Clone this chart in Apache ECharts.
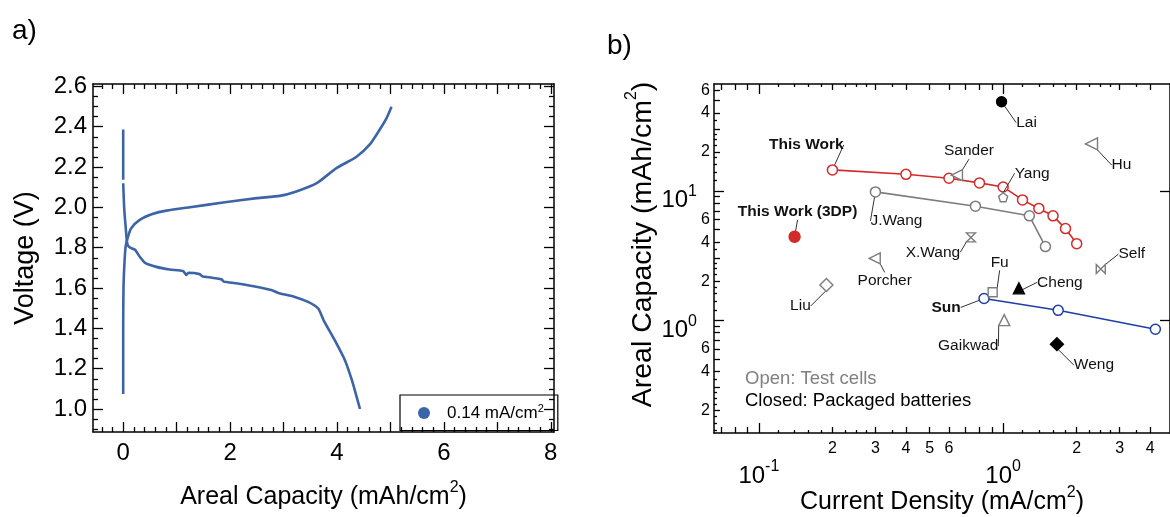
<!DOCTYPE html>
<html>
<head>
<meta charset="utf-8">
<script src="https://cdn.jsdelivr.net/npm/echarts@6/dist/echarts.min.js"></script>
<style>
  html, body { margin: 0; padding: 0; background: #fff; }
  #chart { width: 1170px; height: 517px; }
</style>
</head>
<body>
<div id="chart"></div>
<script>
// ---- (a) voltage profile at 0.14 mA/cm2 ----
const restCapacity = [0, 0];
const restVoltage = [2.386, 2.137];

const dischargeCapacity = [0, 0.02, 0.05, 0.07, 0.09, 0.13, 0.22, 0.31, 0.41, 0.62, 0.87, 1.12, 1.16, 1.18, 1.22, 1.43, 1.48, 1.53, 1.84, 1.88, 1.96, 2.33, 2.77, 2.9, 3.21, 3.46, 3.65, 3.75, 3.96, 4.15, 4.28, 4.37, 4.43];
const dischargeVoltage  = [2.12, 1.99, 1.89, 1.83, 1.81, 1.80, 1.79, 1.755, 1.725, 1.705, 1.692, 1.684, 1.672, 1.665, 1.676, 1.669, 1.658, 1.656, 1.643, 1.632, 1.629, 1.614, 1.59, 1.576, 1.556, 1.531, 1.498, 1.44, 1.34, 1.241, 1.142, 1.058, 1.0];

const chargeCapacity = [0, 0, 0, 0.006, 0.02, 0.045, 0.09, 0.15, 0.31, 0.56, 0.81, 1.25, 1.87, 2.5, 2.93, 3.24, 3.62, 3.99, 4.36, 4.61, 4.8, 4.93, 5.02];
const chargeVoltage  = [1.075, 1.25, 1.425, 1.606, 1.706, 1.805, 1.855, 1.897, 1.938, 1.968, 1.984, 2.001, 2.024, 2.046, 2.057, 2.079, 2.12, 2.195, 2.25, 2.311, 2.386, 2.444, 2.499];

const profileName = '0.14 mA/cm2';
const capacityLabels = [0, 2, 4, 6, 8];
const voltageLabels = [1.0, 1.2, 1.4, 1.6, 1.8, 2.0, 2.2, 2.4, 2.6];

// ---- (b) areal capacity vs current density ----
const thisWorkCurrent  = [0.2, 0.4, 0.6, 0.8, 1.0, 1.2, 1.4, 1.6, 1.8, 2.0];
const thisWorkCapacity = [14.5, 13.4, 12.5, 11.5, 10.7, 8.5, 7.3, 6.4, 5.1, 3.9];

const jWangCurrent  = [0.3, 0.77, 1.28, 1.49];
const jWangCapacity = [9.8, 7.6, 6.4, 3.7];

const sunCurrent  = [0.835, 1.68, 4.2];
const sunCapacity = [1.47, 1.19, 0.85];

const referenceNames    = ['This Work (3DP)', 'Liu', 'Porcher', 'X.Wang', 'Sander', 'Yang', 'Lai', 'Hu', 'Self', 'Fu', 'Cheng', 'Gaikwad', 'Weng'];
const referenceCurrent  = [0.14, 0.189, 0.298, 0.738, 0.647, 1.0, 0.985, 2.3, 2.51, 0.906, 1.16, 1.01, 1.66];
const referenceCapacity = [4.41, 1.87, 3.0, 4.36, 13.2, 8.9, 48.8, 23.0, 2.48, 1.64, 1.76, 1.0, 0.652];

const currentDecades  = [0.1, 1];
const currentLabels   = [0.2, 0.3, 0.4, 0.5, 0.6, 2, 3, 4];
const capacityDecades = [1, 10];
const arealLabels     = [0.2, 0.4, 0.6, 2, 4, 6, 20, 40, 60];

// ---- styling ----
const FONT = '"Liberation Sans", Arial, Helvetica, sans-serif';
const BLUE_A = '#3d64a7';
const RED = '#d42a2a';
const GRAY = '#7d7d7d';
const BLUE_B = '#1f3ea6';
const INK = '#000';

const pointStyle = {
  'This Work (3DP)': { symbol: 'circle', size: 11, fill: RED, stroke: RED, bold: true, dx: 3, dy: -25 },
  'Liu':     { symbol: 'diamond', size: 13, fill: '#fff', stroke: GRAY, dx: -26, dy: 21 },
  'Porcher': { symbol: 'triangle', rotate: 90, size: 11, fill: '#fff', stroke: GRAY, dx: 10, dy: 22 },
  'X.Wang':  { symbol: 'path://M0,0 L10,0 L5,5 Z M5,5 L10,10 L0,10 Z', size: 9, fill: '#fff', stroke: GRAY, dx: -38, dy: 15 },
  'Sander':  { symbol: 'triangle', rotate: 90, size: 11, fill: '#fff', stroke: GRAY, dx: 12, dy: -24 },
  'Yang':    { symbol: 'path://M0,-1 L0.951,-0.309 L0.588,0.809 L-0.588,0.809 L-0.951,-0.309 Z', size: 9, fill: '#fff', stroke: GRAY, dx: 29, dy: -24 },
  'Lai':     { symbol: 'circle', size: 10, fill: INK, stroke: INK, dx: 25, dy: 21 },
  'Hu':      { symbol: 'triangle', rotate: 90, size: 12, fill: '#fff', stroke: GRAY, dx: 30, dy: 21 },
  'Self':    { symbol: 'path://M0,0 L5,5 L0,10 Z M10,0 L5,5 L10,10 Z', size: 9, fill: '#fff', stroke: GRAY, dx: 31, dy: -15 },
  'Fu':      { symbol: 'rect', size: 9, fill: '#fff', stroke: GRAY, dx: 7, dy: -30 },
  'Cheng':   { symbol: 'triangle', size: 11, fill: INK, stroke: INK, dx: 41, dy: -6 },
  'Gaikwad': { symbol: 'triangle', size: 11, fill: '#fff', stroke: GRAY, dx: -36, dy: 26 },
  'Weng':    { symbol: 'diamond', size: 13, fill: INK, stroke: INK, dx: 37, dy: 21 }
};

// tick value helpers (axis furniture only)
function steps(from, to, step) {
  const out = [];
  const n = Math.round((to - from) / step);
  for (let i = 0; i <= n; i++) out.push(+(from + i * step).toFixed(6));
  return out;
}
const isMultiple = (v, m) => Math.abs(v / m - Math.round(v / m)) < 1e-6;

const capMajorTicks = steps(0, 8, 1);
const capMinorTicks = steps(-0.4, 8, 0.2).filter(v => !isMultiple(v, 1));
const voltMajorTicks = voltageLabels;
const voltMinorTicks = steps(0.9, 2.6, 0.05).filter(v => !isMultiple(v, 0.2));

const logMedium = (decades) => {
  const out = [];
  decades.forEach(d => { for (let k = 2; k <= 9; k++) out.push(+(d * k).toPrecision(6)); });
  return out;
};
const logSmall = (decades) => {
  const out = [];
  decades.forEach(d => [1.2, 1.4, 1.6, 1.8, 2.25, 2.5, 2.75, 3.5].forEach(k => out.push(+(d * k).toPrecision(6))));
  return out;
};
const curMedium = logMedium([0.01, 0.1, 1]);
const curSmall = logSmall([0.1, 1]);
const capMedium = logMedium([0.1, 1, 10]);
const capSmall = logSmall([0.1, 1, 10]);

const supRich = {
  b: { fontSize: 24, lineHeight: 24, padding: [10, 0, 0, 0], fontFamily: FONT, color: INK },
  s: { fontSize: 16, lineHeight: 16, verticalAlign: 'top', fontFamily: FONT, color: INK }
};
const nameRich = (size) => ({
  t: { fontSize: size, lineHeight: size, padding: [10, 0, 0, 0], fontFamily: FONT, color: INK },
  s: { fontSize: 16, lineHeight: 16, verticalAlign: 'top', fontFamily: FONT, color: INK }
});
const decadeText = v => '{b|10}{s|' + Math.round(Math.log10(v)) + '}';
const leadDigit = v => String(Math.round(v / Math.pow(10, Math.floor(Math.log10(v) + 1e-9))));

function axis(o) {
  const a = {
    type: o.log ? 'log' : 'value',
    logBase: 10,
    gridIndex: o.grid,
    position: o.pos,
    min: o.min,
    max: o.max,
    axisLine: { show: !!o.line, onZero: false, lineStyle: { color: INK, width: 1.5 } },
    axisTick: { show: true, inside: true, length: o.len, customValues: o.ticks, lineStyle: { color: INK, width: 1.3 } },
    axisLabel: { show: false },
    splitLine: { show: false },
    minorTick: { show: false },
    z: 10
  };
  if (o.labels) {
    a.axisLabel = {
      show: true, customValues: o.labels, formatter: o.fmt, margin: o.margin,
      fontSize: o.fontSize, fontFamily: FONT, color: INK, rich: o.rich, padding: o.labelPad
    };
  }
  if (o.name) {
    a.name = o.name;
    a.nameLocation = 'middle';
    a.nameGap = o.nameGap;
    a.nameMoveOverlap = false;
    a.nameTextStyle = Object.assign({ fontFamily: FONT, color: INK, fontSize: o.nameSize, rich: nameRich(o.nameSize) }, o.nameStyle || {});
  }
  return a;
}

const capRange = { min: -0.565, max: 8.06 };
const voltRange = { min: 0.886, max: 2.612 };
const curRange = { min: 0.0655, max: 4.82 };
const arealRange = { min: 0.134, max: 66.9 };

const xAxes = [
  axis(Object.assign({ grid: 0, pos: 'bottom', line: true, len: 10, ticks: capMajorTicks, labels: capacityLabels,
    fmt: v => String(v), margin: 9, fontSize: 24,
    name: '{t|Areal Capacity (mAh/cm}{s|2}{t|)}', nameGap: 48, nameSize: 25 }, capRange)),
  axis(Object.assign({ grid: 0, pos: 'bottom', len: 5, ticks: capMinorTicks }, capRange)),
  axis(Object.assign({ grid: 0, pos: 'top', line: true, len: 10, ticks: capMajorTicks }, capRange)),
  axis(Object.assign({ grid: 0, pos: 'top', len: 5, ticks: capMinorTicks }, capRange)),

  axis(Object.assign({ grid: 1, log: true, pos: 'bottom', line: true, len: 10, ticks: currentDecades, labels: currentDecades,
    fmt: decadeText, margin: 26, fontSize: 24, rich: supRich,
    name: '{t|Current Density (mA/cm}{s|2}{t|)}', nameGap: 52, nameSize: 25 }, curRange)),
  axis(Object.assign({ grid: 1, log: true, pos: 'bottom', len: 6, ticks: curMedium, labels: currentLabels,
    fmt: leadDigit, margin: 8, fontSize: 16 }, curRange)),
  axis(Object.assign({ grid: 1, log: true, pos: 'bottom', len: 3, ticks: curSmall }, curRange)),
  axis(Object.assign({ grid: 1, log: true, pos: 'top', line: true, len: 10, ticks: currentDecades }, curRange)),
  axis(Object.assign({ grid: 1, log: true, pos: 'top', len: 6, ticks: curMedium }, curRange)),
  axis(Object.assign({ grid: 1, log: true, pos: 'top', len: 3, ticks: curSmall }, curRange))
];

const yAxes = [
  axis(Object.assign({ grid: 0, pos: 'left', line: true, len: 10, ticks: voltMajorTicks, labels: voltageLabels,
    fmt: v => v.toFixed(1), margin: 6, fontSize: 24,
    name: 'Voltage (V)', nameGap: 54, nameSize: 27, nameStyle: { rich: {} } }, voltRange)),
  axis(Object.assign({ grid: 0, pos: 'left', len: 5, ticks: voltMinorTicks }, voltRange)),
  axis(Object.assign({ grid: 0, pos: 'right', line: true, len: 10, ticks: voltMajorTicks }, voltRange)),
  axis(Object.assign({ grid: 0, pos: 'right', len: 5, ticks: voltMinorTicks }, voltRange)),

  axis(Object.assign({ grid: 1, log: true, pos: 'left', line: true, len: 10, ticks: capacityDecades, labels: capacityDecades,
    fmt: decadeText, margin: 17, fontSize: 24, rich: supRich, labelPad: [10, 0, 0, 0],
    name: '{t|Areal Capacity (mAh/cm}{s|2}{t|)}', nameGap: 62, nameSize: 28.5,
    nameStyle: { padding: [0, 0, 0, 28] } }, arealRange)),
  axis(Object.assign({ grid: 1, log: true, pos: 'left', len: 6, ticks: capMedium, labels: arealLabels,
    fmt: leadDigit, margin: 4, fontSize: 16 }, arealRange)),
  axis(Object.assign({ grid: 1, log: true, pos: 'left', len: 3, ticks: capSmall }, arealRange)),
  axis(Object.assign({ grid: 1, log: true, pos: 'right', line: true, len: 10, ticks: capacityDecades }, arealRange))
];

const zip = (xs, ys) => xs.map((x, i) => [x, ys[i]]);

const profileLine = (xs, ys) => ({
  type: 'line', name: profileName, xAxisIndex: 0, yAxisIndex: 0,
  data: zip(xs, ys), showSymbol: false, smooth: 0.2,
  lineStyle: { color: BLUE_A, width: 2.6 }, itemStyle: { color: BLUE_A },
  emphasis: { disabled: true }, z: 3
});

const labelFont = (bold) => ({ fontFamily: FONT, fontSize: 15.5, color: '#111', fontWeight: bold ? 'bold' : 'normal' });
const guide = { show: true, lineStyle: { color: '#333', width: 1 } };

function rateLine(name, xs, ys, color, bold, dx, dy) {
  return {
    type: 'line', name, xAxisIndex: 4, yAxisIndex: 4,
    data: xs.map((x, i) => i === 0 ? { value: [x, ys[i]], label: { show: true } } : [x, ys[i]]),
    symbol: 'circle', symbolSize: 10, showSymbol: true, showAllSymbol: true,
    lineStyle: { color, width: 1.6 },
    itemStyle: { color: '#fff', borderColor: color, borderWidth: 1.5 },
    label: Object.assign({ show: false, position: 'inside', formatter: name }, labelFont(bold)),
    labelLayout: { dx, dy }, labelLine: guide,
    emphasis: { disabled: true }, z: 4
  };
}

const pointSeries = referenceNames.map((name, i) => {
  const st = pointStyle[name];
  return {
    type: 'scatter', name, xAxisIndex: 4, yAxisIndex: 4,
    data: [[referenceCurrent[i], referenceCapacity[i]]],
    symbol: st.symbol, symbolSize: st.size, symbolRotate: st.rotate || 0,
    itemStyle: { color: st.fill, borderColor: st.stroke, borderWidth: 1.4, opacity: 1 },
    label: Object.assign({ show: true, position: 'inside', formatter: name }, labelFont(st.bold)),
    labelLayout: { dx: st.dx, dy: st.dy }, labelLine: guide,
    emphasis: { disabled: true }, z: 5
  };
});

const option = {
  animation: false,
  backgroundColor: '#fff',
  textStyle: { fontFamily: FONT },
  title: [
    { text: 'a)', left: 7, top: 12, textStyle: { fontFamily: FONT, fontSize: 28, fontWeight: 'normal', color: INK } },
    { text: 'b)', left: 602, top: 27, textStyle: { fontFamily: FONT, fontSize: 28, fontWeight: 'normal', color: INK } }
  ],
  grid: [
    { left: 93, top: 84, width: 461, height: 348, outerBoundsMode: 'none', containLabel: false },
    { left: 714, top: 84, width: 456, height: 349, outerBoundsMode: 'none', containLabel: false }
  ],
  legend: {
    data: [profileName], left: 400, top: 395,
    icon: 'circle', itemWidth: 12, itemHeight: 12,
    padding: [8, 14, 9, 18],
    borderColor: INK, borderWidth: 1.2, borderRadius: 0, backgroundColor: '#fff',
    selectedMode: false,
    formatter: () => '{t|0.14 mA/cm}{s|2}',
    textStyle: {
      padding: [0, 0, 0, 12],
      rich: {
        t: { fontFamily: FONT, fontSize: 17, lineHeight: 20, color: INK },
        s: { fontFamily: FONT, fontSize: 11, lineHeight: 11, verticalAlign: 'top', color: INK }
      }
    }
  },
  xAxis: xAxes,
  yAxis: yAxes,
  graphic: [
    { type: 'text', left: 745, top: 369, style: { text: 'Open: Test cells', fill: '#808080', font: '18.5px ' + FONT } },
    { type: 'text', left: 745, top: 391, style: { text: 'Closed: Packaged batteries', fill: INK, font: '18.5px ' + FONT } }
  ],
  series: [
    profileLine(restCapacity, restVoltage),
    profileLine(dischargeCapacity, dischargeVoltage),
    profileLine(chargeCapacity, chargeVoltage),
    rateLine('J.Wang', jWangCurrent, jWangCapacity, GRAY, false, 21, 29),
    rateLine('Sun', sunCurrent, sunCapacity, BLUE_B, true, -38, 9),
    rateLine('This Work', thisWorkCurrent, thisWorkCapacity, RED, true, -26, -25)
  ].concat(pointSeries)
};

const chart = echarts.init(document.getElementById('chart'), null, { renderer: 'canvas' });
chart.setOption(option);
</script>
</body>
</html>
